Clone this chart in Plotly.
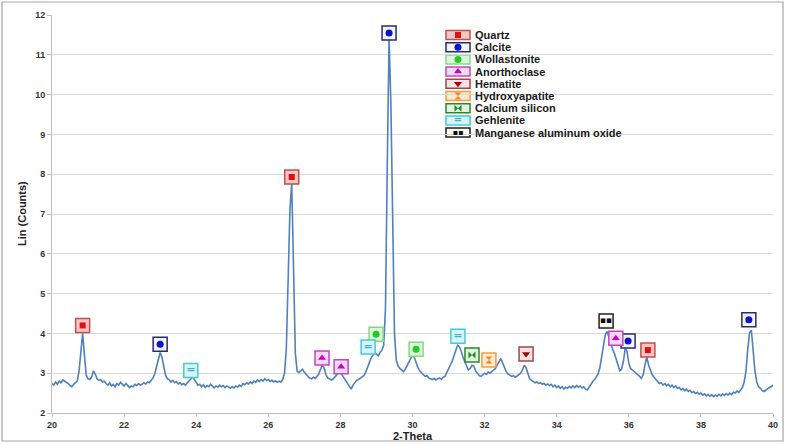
import plotly.graph_objects as go

# XRD scan (2-theta, intensity in thousands of counts)
two_theta = [
    20.00, 20.05, 20.10, 20.15, 20.20, 20.25, 20.30, 20.35, 20.40, 20.45, 20.50, 20.55, 20.60, 20.65, 20.70, 20.75, 20.80, 20.85, 20.90, 20.95,
    21.00, 21.05, 21.10, 21.15, 21.20, 21.25, 21.30, 21.35, 21.40, 21.45, 21.50, 21.55, 21.60, 21.65, 21.70, 21.75, 21.80, 21.85, 21.90, 21.95,
    22.00, 22.05, 22.10, 22.15, 22.20, 22.25, 22.30, 22.35, 22.40, 22.45, 22.50, 22.55, 22.60, 22.65, 22.70, 22.75, 22.80, 22.85, 22.90, 22.95,
    23.00, 23.05, 23.10, 23.15, 23.20, 23.25, 23.30, 23.35, 23.40, 23.45, 23.50, 23.55, 23.60, 23.65, 23.70, 23.75, 23.80, 23.85, 23.90, 23.95,
    24.00, 24.05, 24.10, 24.15, 24.20, 24.25, 24.30, 24.35, 24.40, 24.45, 24.50, 24.55, 24.60, 24.65, 24.70, 24.75, 24.80, 24.85, 24.90, 24.95,
    25.00, 25.05, 25.10, 25.15, 25.20, 25.25, 25.30, 25.35, 25.40, 25.45, 25.50, 25.55, 25.60, 25.65, 25.70, 25.75, 25.80, 25.85, 25.90, 25.95,
    26.00, 26.05, 26.10, 26.15, 26.20, 26.25, 26.30, 26.35, 26.40, 26.45, 26.50, 26.55, 26.60, 26.65, 26.70, 26.75, 26.80, 26.85, 26.90, 26.95,
    27.00, 27.05, 27.10, 27.15, 27.20, 27.25, 27.30, 27.35, 27.40, 27.45, 27.50, 27.55, 27.60, 27.65, 27.70, 27.75, 27.80, 27.85, 27.90, 27.95,
    28.00, 28.05, 28.10, 28.15, 28.20, 28.25, 28.30, 28.35, 28.40, 28.45, 28.50, 28.55, 28.60, 28.65, 28.70, 28.75, 28.80, 28.85, 28.90, 28.95,
    29.00, 29.05, 29.10, 29.15, 29.20, 29.25, 29.30, 29.35, 29.40, 29.45, 29.50, 29.55, 29.60, 29.65, 29.70, 29.75, 29.80, 29.85, 29.90, 29.95,
    30.00, 30.05, 30.10, 30.15, 30.20, 30.25, 30.30, 30.35, 30.40, 30.45, 30.50, 30.55, 30.60, 30.65, 30.70, 30.75, 30.80, 30.85, 30.90, 30.95,
    31.00, 31.05, 31.10, 31.15, 31.20, 31.25, 31.30, 31.35, 31.40, 31.45, 31.50, 31.55, 31.60, 31.65, 31.70, 31.75, 31.80, 31.85, 31.90, 31.95,
    32.00, 32.05, 32.10, 32.15, 32.20, 32.25, 32.30, 32.35, 32.40, 32.45, 32.50, 32.55, 32.60, 32.65, 32.70, 32.75, 32.80, 32.85, 32.90, 32.95,
    33.00, 33.05, 33.10, 33.15, 33.20, 33.25, 33.30, 33.35, 33.40, 33.45, 33.50, 33.55, 33.60, 33.65, 33.70, 33.75, 33.80, 33.85, 33.90, 33.95,
    34.00, 34.05, 34.10, 34.15, 34.20, 34.25, 34.30, 34.35, 34.40, 34.45, 34.50, 34.55, 34.60, 34.65, 34.70, 34.75, 34.80, 34.85, 34.90, 34.95,
    35.00, 35.05, 35.10, 35.15, 35.20, 35.25, 35.30, 35.35, 35.40, 35.45, 35.50, 35.55, 35.60, 35.65, 35.70, 35.75, 35.80, 35.85, 35.90, 35.95,
    36.00, 36.05, 36.10, 36.15, 36.20, 36.25, 36.30, 36.35, 36.40, 36.45, 36.50, 36.55, 36.60, 36.65, 36.70, 36.75, 36.80, 36.85, 36.90, 36.95,
    37.00, 37.05, 37.10, 37.15, 37.20, 37.25, 37.30, 37.35, 37.40, 37.45, 37.50, 37.55, 37.60, 37.65, 37.70, 37.75, 37.80, 37.85, 37.90, 37.95,
    38.00, 38.05, 38.10, 38.15, 38.20, 38.25, 38.30, 38.35, 38.40, 38.45, 38.50, 38.55, 38.60, 38.65, 38.70, 38.75, 38.80, 38.85, 38.90, 38.95,
    39.00, 39.05, 39.10, 39.15, 39.20, 39.25, 39.30, 39.35, 39.40, 39.45, 39.50, 39.55, 39.60, 39.65, 39.70, 39.75, 39.80, 39.85, 39.90, 39.95,
    40.00,
]
counts = [
    2.74, 2.70, 2.78, 2.72, 2.80, 2.76, 2.83, 2.80, 2.78, 2.74, 2.69, 2.66, 2.72, 2.76, 2.80, 3.05, 3.65, 4.00, 3.45, 2.95,
    2.86, 2.84, 2.90, 3.06, 2.98, 2.86, 2.82, 2.84, 2.78, 2.80, 2.74, 2.70, 2.76, 2.68, 2.72, 2.66, 2.74, 2.70, 2.77, 2.72,
    2.68, 2.74, 2.70, 2.64, 2.68, 2.66, 2.72, 2.69, 2.74, 2.70, 2.72, 2.76, 2.73, 2.78, 2.76, 2.82, 2.88, 2.98, 3.15, 3.35,
    3.52, 3.40, 3.12, 2.95, 2.86, 2.84, 2.78, 2.82, 2.76, 2.79, 2.73, 2.76, 2.71, 2.74, 2.70, 2.76, 2.80, 2.86, 2.91, 2.84,
    2.76, 2.70, 2.72, 2.66, 2.71, 2.64, 2.69, 2.66, 2.72, 2.67, 2.63, 2.68, 2.65, 2.70, 2.66, 2.69, 2.64, 2.68, 2.66, 2.62,
    2.66, 2.63, 2.68, 2.65, 2.70, 2.67, 2.74, 2.71, 2.76, 2.73, 2.78, 2.74, 2.80, 2.77, 2.83, 2.79, 2.84, 2.80, 2.86, 2.82,
    2.84, 2.79, 2.82, 2.78, 2.81, 2.77, 2.80, 2.78, 2.84, 3.00, 3.60, 5.20, 7.10, 7.78, 5.60, 3.50, 3.05, 3.02, 3.06, 3.10,
    3.02, 2.96, 2.92, 2.88, 2.86, 2.90, 2.87, 2.92, 2.98, 3.10, 3.20, 3.12, 2.96, 2.88, 2.85, 2.83, 2.86, 2.90, 2.96, 3.04,
    3.05, 2.95, 2.88, 2.83, 2.76, 2.66, 2.60, 2.70, 2.76, 2.82, 2.84, 2.88, 2.90, 2.94, 3.02, 3.12, 3.26, 3.38, 3.46, 3.52,
    3.48, 3.44, 3.52, 3.58, 3.70, 4.60, 8.20, 11.40, 9.80, 6.20, 4.00, 3.33, 3.18, 3.12, 3.08, 3.04, 3.10, 3.20, 3.28, 3.38,
    3.46, 3.40, 3.26, 3.14, 3.06, 3.00, 2.96, 2.92, 2.94, 2.88, 2.86, 2.84, 2.87, 2.83, 2.86, 2.88, 2.85, 2.90, 2.92, 3.02,
    3.10, 3.18, 3.30, 3.44, 3.58, 3.70, 3.66, 3.56, 3.40, 3.28, 3.15, 3.08, 3.12, 3.20, 3.18, 3.06, 3.00, 2.94, 2.92, 2.96,
    3.00, 2.97, 3.03, 3.00, 3.05, 3.08, 3.12, 3.20, 3.30, 3.37, 3.26, 3.12, 3.04, 2.98, 2.95, 2.92, 2.94, 2.90, 2.93, 2.96,
    3.00, 3.08, 3.20, 3.14, 2.98, 2.86, 2.82, 2.78, 2.76, 2.78, 2.74, 2.76, 2.72, 2.74, 2.70, 2.73, 2.69, 2.72, 2.66, 2.70,
    2.64, 2.68, 2.62, 2.66, 2.60, 2.65, 2.62, 2.67, 2.63, 2.68, 2.64, 2.69, 2.65, 2.68, 2.63, 2.66, 2.60, 2.58, 2.66, 2.74,
    2.79, 2.84, 2.90, 2.98, 3.15, 3.40, 3.75, 3.98, 4.05, 3.88, 3.72, 3.60, 3.50, 3.34, 3.20, 3.06, 3.10, 3.30, 3.62, 3.55,
    3.25, 3.12, 3.08, 3.04, 3.02, 2.98, 2.92, 2.87, 2.96, 3.22, 3.40, 3.20, 3.05, 2.96, 2.90, 2.84, 2.78, 2.74, 2.76, 2.70,
    2.74, 2.68, 2.72, 2.66, 2.70, 2.64, 2.68, 2.62, 2.64, 2.58, 2.62, 2.56, 2.60, 2.54, 2.57, 2.51, 2.54, 2.49, 2.52, 2.47,
    2.50, 2.45, 2.48, 2.43, 2.47, 2.42, 2.46, 2.41, 2.45, 2.42, 2.47, 2.43, 2.48, 2.44, 2.49, 2.45, 2.50, 2.46, 2.52, 2.50,
    2.55, 2.52, 2.58, 2.64, 2.78, 3.05, 3.60, 4.02, 4.08, 3.55, 3.05, 2.78, 2.66, 2.62, 2.56, 2.54, 2.58, 2.60, 2.64, 2.66,
    2.70,
]

# phase identification tags: (2-theta, label height)
quartz_x = [20.85, 26.65, 36.53]
quartz_y = [4.20, 7.93, 3.58]
calcite_x = [23.00, 29.35, 35.98, 39.33]
calcite_y = [3.73, 11.55, 3.81, 4.34]
wollastonite_x = [28.99, 30.10]
wollastonite_y = [3.98, 3.60]
anorthoclase_x = [27.49, 28.02, 35.64]
anorthoclase_y = [3.38, 3.16, 3.88]
hematite_x = [33.15]
hematite_y = [3.48]
hydroxyapatite_x = [32.12]
hydroxyapatite_y = [3.33]
calcium_silicon_x = [31.65]
calcium_silicon_y = [3.46]
gehlenite_x = [23.85, 28.77, 31.26]
gehlenite_y = [3.07, 3.66, 3.93]
manganese_x = [35.37]
manganese_y = [4.31]

x_ticks = [20, 22, 24, 26, 28, 30, 32, 34, 36, 38, 40]
y_ticks = [2, 3, 4, 5, 6, 7, 8, 9, 10, 11, 12]

# name, xs, ys, box border, box fill, inner symbol, inner colour, inner size, inner text
phases = [
    ("Quartz", quartz_x, quartz_y, "#c0504d", "#f6c6c4", "square", "#e01010", 6, None),
    ("Calcite", calcite_x, calcite_y, "#2a2a70", "#f4f4fb", "circle", "#0a14c8", 7, None),
    ("Wollastonite", wollastonite_x, wollastonite_y, "#86d886", "#dcf6dc", "circle", "#22cc22", 7, None),
    ("Anorthoclase", anorthoclase_x, anorthoclase_y, "#c048c0", "#f8d8f8", "triangle-up", "#c800c8", 7, None),
    ("Hematite", hematite_x, hematite_y, "#a04848", "#f8e2e2", "triangle-down", "#a80000", 7, None),
    ("Hydroxyapatite", hydroxyapatite_x, hydroxyapatite_y, "#f0a040", "#fde8d0", "hourglass", "#f08a20", 7, None),
    ("Calcium silicon", calcium_silicon_x, calcium_silicon_y, "#2a8a2a", "#e4f2e4", "bowtie", "#1f8a1f", 7, None),
    ("Gehlenite", gehlenite_x, gehlenite_y, "#48c8d8", "#d8f4f8", None, "#38b8c8", 0, "="),
    ("Manganese aluminum oxide", manganese_x, manganese_y, "#202020", "#ffffff", None, "#101010", 0, "▪▪"),
]

FONT = "Liberation Sans"

fig = go.Figure()

fig.add_trace(go.Scatter(
    x=two_theta, y=counts, mode="lines",
    line=dict(color="#4f81bd", width=1.6),
    showlegend=False, hoverinfo="skip",
))

for name, xs, ys, border, fill, sym, col, size, txt in phases:
    fig.add_trace(go.Scatter(
        x=xs, y=ys, mode="markers", showlegend=False, hoverinfo="skip",
        marker=dict(symbol="square", size=14, color=fill, line=dict(color=border, width=1.5)),
    ))
    if txt is None:
        fig.add_trace(go.Scatter(
            x=xs, y=ys, mode="markers", showlegend=False, hoverinfo="skip",
            marker=dict(symbol=sym, size=size, color=col, line=dict(width=0)),
        ))
    else:
        fig.add_trace(go.Scatter(
            x=xs, y=ys, mode="text", text=[txt] * len(xs), showlegend=False, hoverinfo="skip",
            textposition="middle center",
            textfont=dict(family="DejaVu Sans", size=11 if txt == "=" else 9, color=col, weight="bold"),
        ))

# hand-made legend on an overlay axis measured in pixels
leg_x0, leg_y0, leg_dy = 446, 35, 12.2
shapes = []
annotations = []
for i, (name, xs, ys, border, fill, sym, col, size, txt) in enumerate(phases):
    yc = leg_y0 + i * leg_dy
    shapes.append(dict(type="rect", xref="x2", yref="y2",
                       x0=leg_x0, x1=leg_x0 + 24, y0=yc - 4.5, y1=yc + 4.5,
                       line=dict(color=border, width=1.5), fillcolor=fill, layer="below"))
    annotations.append(dict(xref="x2", yref="y2", x=leg_x0 + 27, y=yc, text=name,
                            showarrow=False, xanchor="left", yanchor="middle",
                            font=dict(family=FONT, size=11, color="#1a1a1a", weight="bold")))
    if txt is None:
        fig.add_trace(go.Scatter(
            x=[leg_x0 + 12], y=[yc], xaxis="x2", yaxis="y2", mode="markers",
            showlegend=False, hoverinfo="skip",
            marker=dict(symbol=sym, size=size, color=col, line=dict(width=0)),
        ))
    else:
        fig.add_trace(go.Scatter(
            x=[leg_x0 + 12], y=[yc], xaxis="x2", yaxis="y2", mode="text", text=[txt],
            showlegend=False, hoverinfo="skip", textposition="middle center",
            textfont=dict(family="DejaVu Sans", size=10 if txt == "=" else 8, color=col, weight="bold"),
        ))

# axis titles placed where the original puts them
annotations.append(dict(xref="paper", yref="paper", x=0.5, y=(413 - 436) / 398, text="2-Theta",
                        showarrow=False, xanchor="center", yanchor="middle",
                        font=dict(family=FONT, size=11, color="#222222", weight="bold")))
annotations.append(dict(xref="paper", yref="paper", x=(22 - 52) / 721, y=0.5, text="Lin (Counts)",
                        showarrow=False, xanchor="center", yanchor="middle", textangle=-90,
                        font=dict(family=FONT, size=11, color="#222222", weight="bold")))

# outer frame around the whole picture
shapes.append(dict(type="rect", xref="paper", yref="paper",
                   x0=(2 - 52) / 721, x1=(783 - 52) / 721, y0=(413 - 441) / 398, y1=(413 - 2) / 398,
                   line=dict(color="#a6a6a6", width=1.2), fillcolor="rgba(0,0,0,0)"))

fig.update_layout(
    width=786, height=444,
    margin=dict(l=52, r=13, t=15, b=31),
    paper_bgcolor="white", plot_bgcolor="white",
    showlegend=False,
    shapes=shapes, annotations=annotations,
    font=dict(family=FONT, color="#333333"),
    xaxis=dict(
        range=[20, 40], tickvals=x_ticks, showgrid=False, zeroline=False, automargin=False,
        showline=True, linecolor="#bfbfbf", linewidth=1,
        ticks="outside", ticklen=3, tickcolor="#bfbfbf",
        tickfont=dict(family=FONT, size=9, color="#333333", weight="bold"),
    ),
    yaxis=dict(
        range=[2, 12], tickvals=y_ticks, showgrid=True, gridcolor="#d9d9d9", gridwidth=1,
        zeroline=False, showline=True, linecolor="#bfbfbf", linewidth=1, automargin=False,
        ticks="outside", ticklen=4, tickcolor="#bfbfbf",
        tickfont=dict(family=FONT, size=9, color="#333333", weight="bold"),
    ),
    xaxis2=dict(overlaying="x", range=[52, 773], visible=False, fixedrange=True),
    yaxis2=dict(overlaying="y", range=[413, 15], visible=False, fixedrange=True),
)

# drop the browser's default body margin so the figure sits at the page corner
fig.write_html("out.html", config={"displayModeBar": False},
               post_script="document.body.style.margin = '0';")
